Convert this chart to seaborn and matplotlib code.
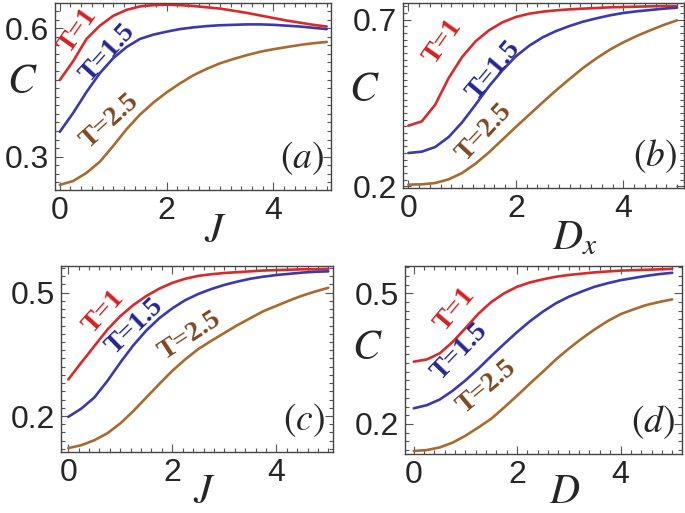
import matplotlib
matplotlib.use("Agg")
import matplotlib.pyplot as plt
from matplotlib.ticker import FixedLocator, MultipleLocator
import seaborn as sns
import pandas as pd

sns.set_style("ticks")
plt.rcParams['font.family'] = ['Liberation Sans', 'DejaVu Sans']
plt.rcParams['mathtext.fontset'] = 'stix'

# shared sampling of the horizontal parameter (J, Dx, D)
x_vals = [0, 0.25, 0.5, 0.75, 1, 1.25, 1.5, 1.75, 2, 2.25, 2.5, 2.75, 3,
          3.25, 3.5, 3.75, 4, 4.25, 4.5, 4.75, 5]
temps = ['T=1', 'T=1.5', 'T=2.5']

# panel (a): C vs J
a_t1 = [0.479, 0.523, 0.575, 0.606, 0.629, 0.643, 0.651, 0.654, 0.655, 0.654, 0.652,
        0.649, 0.646, 0.641, 0.636, 0.630, 0.624, 0.618, 0.613, 0.608, 0.604]
a_t15 = [0.358, 0.402, 0.451, 0.495, 0.530, 0.556, 0.575, 0.585, 0.592, 0.598, 0.602,
         0.605, 0.607, 0.608, 0.609, 0.609, 0.608, 0.606, 0.604, 0.601, 0.598]
a_t25 = [0.234, 0.243, 0.262, 0.288, 0.325, 0.364, 0.398, 0.426, 0.450, 0.471, 0.490,
         0.505, 0.518, 0.528, 0.537, 0.545, 0.551, 0.556, 0.561, 0.565, 0.568]

# panel (b): C vs Dx
b_t1 = [0.382, 0.395, 0.445, 0.525, 0.588, 0.635, 0.668, 0.692, 0.708, 0.718, 0.724,
        0.728, 0.731, 0.733, 0.735, 0.737, 0.738, 0.739, 0.740, 0.741, 0.741]
b_t15 = [0.300, 0.304, 0.318, 0.348, 0.392, 0.445, 0.500, 0.548, 0.590, 0.622, 0.647,
         0.666, 0.681, 0.694, 0.704, 0.713, 0.720, 0.725, 0.729, 0.733, 0.736]
b_t25 = [0.205, 0.206, 0.210, 0.221, 0.240, 0.268, 0.302, 0.340, 0.378, 0.415, 0.452,
         0.488, 0.522, 0.555, 0.584, 0.610, 0.632, 0.651, 0.668, 0.684, 0.698]

# panel (c): C vs J
c_t1 = [0.289, 0.330, 0.370, 0.410, 0.443, 0.470, 0.492, 0.510, 0.524, 0.534, 0.541,
        0.545, 0.548, 0.550, 0.552, 0.554, 0.555, 0.556, 0.557, 0.557, 0.558]
c_t15 = [0.198, 0.218, 0.245, 0.285, 0.330, 0.372, 0.408, 0.438, 0.462, 0.482, 0.497,
         0.509, 0.519, 0.527, 0.534, 0.539, 0.543, 0.546, 0.549, 0.551, 0.552]
c_t25 = [0.122, 0.129, 0.141, 0.158, 0.182, 0.212, 0.245, 0.278, 0.310, 0.338, 0.363,
         0.383, 0.402, 0.421, 0.438, 0.455, 0.468, 0.481, 0.493, 0.503, 0.512]

# panel (d): C vs D
d_t1 = [0.343, 0.348, 0.362, 0.388, 0.420, 0.453, 0.480, 0.500, 0.515, 0.525, 0.532,
        0.538, 0.542, 0.545, 0.548, 0.550, 0.552, 0.553, 0.554, 0.555, 0.556]
d_t15 = [0.236, 0.243, 0.256, 0.276, 0.300, 0.327, 0.356, 0.384, 0.411, 0.436, 0.458,
         0.477, 0.492, 0.504, 0.515, 0.523, 0.530, 0.535, 0.540, 0.544, 0.547]
d_t25 = [0.138, 0.140, 0.146, 0.157, 0.173, 0.192, 0.212, 0.238, 0.265, 0.293, 0.320,
         0.348, 0.373, 0.396, 0.417, 0.436, 0.452, 0.463, 0.473, 0.480, 0.486]

line_colors = {'T=1': '#d92a2a', 'T=1.5': '#3a3ab0', 'T=2.5': '#a86b2d'}
text_colors = {'T=1': '#d42020', 'T=1.5': '#25258f', 'T=2.5': '#7b4a22'}

W, H = 685, 513
fig = plt.figure(figsize=(W / 100, H / 100), dpi=100)


def px_axes(left, top, right, bottom):
    return fig.add_axes([left / W, 1 - bottom / H, (right - left) / W, (bottom - top) / H])


def to_frame(series):
    rows = []
    for t, ys in zip(temps, series):
        for x, y in zip(x_vals, ys):
            rows.append({'x': x, 'C': y, 'T': t})
    return pd.DataFrame(rows)


# curve labels, in figure pixels: (x, y, rotation)
panels = [
    dict(box=(55, 3, 331, 190), data=(a_t1, a_t15, a_t25), xlim=(-0.09, 5.08), ylim=(0.222, 0.659),
         yt=[0.3, 0.6], tag='(a)',
         labels=[(78, 31, 55), (108, 53, 48), (110, 121, 42)]),
    dict(box=(403, 3, 684, 188), data=(b_t1, b_t15, b_t25), xlim=(-0.1, 5.13), ylim=(0.195, 0.75),
         yt=[0.2, 0.7], tag='(b)',
         labels=[(443, 42, 55), (494, 70, 50), (484, 132, 47)]),
    dict(box=(61, 266, 333, 452), data=(c_t1, c_t15, c_t25), xlim=(-0.14, 5.09), ylim=(0.1125, 0.565),
         yt=[0.2, 0.5], tag='(c)',
         labels=[(104, 312, 48), (135, 326, 44), (190, 336, 33)]),
    dict(box=(405, 266, 682, 454), data=(d_t1, d_t15, d_t25), xlim=(-0.17, 5.19), ylim=(0.131, 0.5626),
         yt=[0.2, 0.5], tag='(d)',
         labels=[(455, 309, 50), (460, 352, 46), (487, 387, 40)]),
]

for p in panels:
    ax = px_axes(*p['box'])
    df = to_frame(p['data'])
    sns.lineplot(data=df, x='x', y='C', hue='T', palette=line_colors, legend=False,
                 linewidth=1.9, ax=ax)
    ax.set_xlim(*p['xlim'])
    ax.set_ylim(*p['ylim'])
    ax.set_xlabel('')
    ax.set_ylabel('')
    ax.xaxis.set_major_locator(FixedLocator([0, 2, 4]))
    ax.xaxis.set_minor_locator(MultipleLocator(0.2))
    ax.yaxis.set_major_locator(FixedLocator(p['yt']))
    ax.yaxis.set_minor_locator(MultipleLocator(0.02))
    ax.set_xticklabels(['0', '2', '4'])
    ax.set_yticklabels([f'{v:.1f}' for v in p['yt']])
    ax.tick_params(which='both', direction='in', top=True, right=True, color='#555555',
                   labelsize=23, width=0.8)
    ax.tick_params(which='major', length=6, pad=4)
    ax.tick_params(which='minor', length=3)
    for s in ax.spines.values():
        s.set_color('#444444')
        s.set_linewidth(1.0)
    for t, (lx, ly, rot) in zip(temps, p['labels']):
        fig.text(lx / W, 1 - ly / H, t, color=text_colors[t], rotation=rot,
                 ha='center', va='center', rotation_mode='anchor',
                 fontsize=20, fontweight='bold', family=['Liberation Serif'])
    ax.text(0.895, 0.17, '$' + p['tag'] + '$', transform=ax.transAxes, fontsize=27,
            ha='center', va='center')


def fig_label(x, y, s, size=30):
    fig.text(x / W, 1 - y / H, s, fontsize=size, ha='center', va='center')


fig_label(22, 82, '$C$')
fig_label(215, 231, '$J$')
fig_label(364, 90, '$C$')
fig_label(575, 238, '$D_x$')
fig_label(204, 492, '$J$')
fig_label(367, 348, '$C$')
fig_label(565, 492, '$D$')

fig.savefig('out.png', dpi=100)
